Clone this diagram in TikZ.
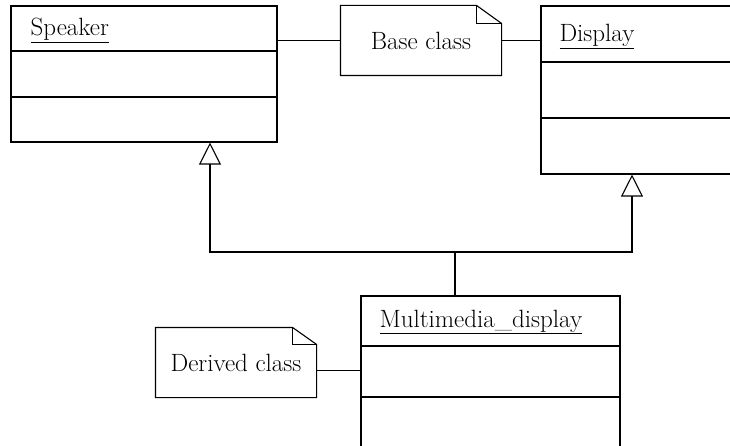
\documentclass[tikz,border=0pt]{standalone}
\usepackage{tikz}
\usetikzlibrary{arrows.meta}

\begin{document}
\begin{tikzpicture}[x=1pt, y=-1pt, line width=1.1pt, inner sep=0pt,
  font=\fontsize{25}{30}\selectfont,
  classbox/.style={rectangle, draw=black},
  notebox/.style={rectangle, draw=none, align=center},
  title/.style={anchor=base west},
  inherit/.style={-{Triangle[open, length=22pt, width=22pt]}}]
\useasboundingbox (0,0) rectangle (730,446);
\clip (0,0) rectangle (730,446);
% classes
\node (speaker) at (144,74) [classbox, minimum width=266, minimum height=136] {};
\node (display) at (670.5,90) [classbox, minimum width=259, minimum height=168] {};
\node (mmd) at (490.5,383) [classbox, minimum width=259, minimum height=174] {};
\node (speakertitle) at (30,36) [title] {\underline{Speaker}};
\node (displaytitle) at (559,42) [title] {\underline{Display}};
\node (mmdtitle) at (379,327) [title] {\underline{Multimedia\_display}};
\draw (speaker.west |- 0,51) -- (speaker.east |- 0,51);
\draw (speaker.west |- 0,97) -- (speaker.east |- 0,97);
\draw (display.west |- 0,62) -- (display.east |- 0,62);
\draw (display.west |- 0,118) -- (display.east |- 0,118);
\draw (mmd.west |- 0,346) -- (mmd.east |- 0,346);
\draw (mmd.west |- 0,397) -- (mmd.east |- 0,397);
% notes
\node (basenote) at (421,40.5) [notebox, minimum width=160, minimum height=69] {Base class};
\node (dernote) at (236,362.5) [notebox, minimum width=160, minimum height=69] {Derived class};
\draw (basenote.north west) -- ([xshift=-25]basenote.north east) -- ([yshift=-18]basenote.north east)
  -- (basenote.south east) -- (basenote.south west) -- cycle;
\draw ([xshift=-25]basenote.north east) -- ([xshift=-25,yshift=-18]basenote.north east)
  -- ([yshift=-18]basenote.north east);
\draw (dernote.north west) -- ([xshift=-24]dernote.north east) -- ([yshift=-17]dernote.north east)
  -- (dernote.south east) -- (dernote.south west) -- cycle;
\draw ([xshift=-24]dernote.north east) -- ([xshift=-24,yshift=-17]dernote.north east)
  -- ([yshift=-17]dernote.north east);
\draw (basenote.west) -- (basenote.west -| speaker.east);
\draw (basenote.east) -- (basenote.east -| display.west);
\draw ([yshift=-8]dernote.east) -- ([yshift=-8]dernote.east -| mmd.west);
% inheritance
\coordinate (join) at (455,252);
\draw (join |- mmd.north) -- (join);
\draw[inherit] (join) -| ([xshift=66]speaker.south);
\draw[inherit] (join) -| ([xshift=-38.5]display.south);
\end{tikzpicture}
\end{document}
